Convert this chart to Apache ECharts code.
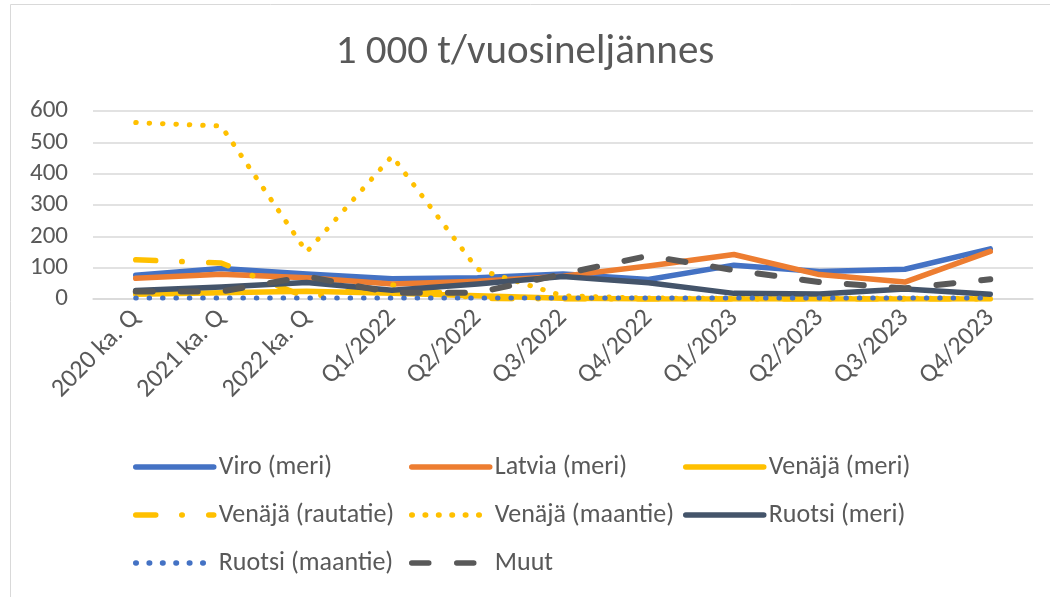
<!DOCTYPE html>
<html>
<head>
<meta charset="utf-8">
<script src="https://cdn.jsdelivr.net/npm/echarts@6/dist/echarts.min.js"></script>
<style>
  html, body { margin: 0; padding: 0; background: #fff; }
  #chart { width: 1050px; height: 597px; }
</style>
</head>
<body>
<div id="chart"></div>
<script>
// kategoriat ja sarjat (1 000 t / vuosineljännes)
const categories = ['2020 ka. Q', '2021 ka. Q', '2022 ka. Q', 'Q1/2022', 'Q2/2022', 'Q3/2022', 'Q4/2022', 'Q1/2023', 'Q2/2023', 'Q3/2023', 'Q4/2023'];
const viroMeri = [76, 97, 80, 65, 68, 80, 62, 108, 88, 95, 160];
const latviaMeri = [66, 79, 68, 48, 57, 73, 105, 142, 78, 54, 152];
const venajaMeri = [15, 20, 25, 18, 10, 2, 0, 0, 0, 0, 0];
const venajaRautatie = [125, 115, 5, 45, 2, 0, 0, 0, 0, 0, 0];
const venajaMaantie = [563, 552, 150, 456, 95, 10, 3, 2, 2, 2, 2];
const ruotsiMeri = [27, 38, 53, 28, 48, 72, 52, 18, 16, 32, 15];
const ruotsiMaantie = [3, 3, 3, 3, 3, 3, 3, 3, 3, 3, 3];
const muut = [24, 24, 72, 20, 20, 80, 138, 92, 54, 34, 63];
const yTicks = [0, 600, 100]; // min, max, interval

const textColor = '#595959';
const gridColor = '#d9d9d9';
const font = 'Carlito, "Noto Sans", sans-serif';

const chart = echarts.init(document.getElementById('chart'));

function line(name, data, color, width, type) {
  return {
    name: name,
    type: 'line',
    data: data,
    symbol: 'none',
    silent: true,
    lineStyle: { color: color, width: width, type: type || 'solid', cap: 'round', join: 'round' },
    itemStyle: { color: color }
  };
}

const legendBase = {
  orient: 'vertical',
  top: 449,
  itemWidth: 78,
  itemHeight: 14,
  itemGap: 22,
  textStyle: { color: textColor, fontSize: 26, fontFamily: font },
  itemStyle: { opacity: 0 },
  lineStyle: { width: 5.5, cap: 'round' }
};

const option = {
  animation: false,
  title: {
    text: '1 000 t/vuosineljännes',
    left: 'center',
    top: 27,
    textStyle: { color: textColor, fontSize: 41, fontWeight: 'normal', fontFamily: font }
  },
  graphic: [{
    type: 'rect',
    shape: { x: 10.5, y: 4.5, width: 1100, height: 700 },
    style: { fill: 'none', stroke: gridColor, lineWidth: 1 },
    silent: true
  }],
  legend: [
    Object.assign({}, legendBase, { left: 128, data: ['Viro (meri)', 'Venäjä (rautatie)', 'Ruotsi (maantie)'] }),
    Object.assign({}, legendBase, { left: 404, data: ['Latvia (meri)', 'Venäjä (maantie)', 'Muut'] }),
    Object.assign({}, legendBase, { left: 678, data: ['Venäjä (meri)', 'Ruotsi (meri)'] })
  ],
  grid: { left: 93, top: 111, width: 940, height: 188, containLabel: false },
  xAxis: {
    type: 'category',
    data: categories,
    boundaryGap: true,
    axisLine: { show: true, lineStyle: { color: gridColor, width: 1.5 } },
    axisTick: { show: false },
    axisLabel: { rotate: 45, color: textColor, fontSize: 26, fontFamily: font, margin: 15, interval: 0 }
  },
  yAxis: {
    type: 'value',
    min: yTicks[0],
    max: yTicks[1],
    interval: yTicks[2],
    axisLine: { show: false },
    axisTick: { show: false },
    axisLabel: { color: textColor, fontSize: 25, fontFamily: font, margin: 25 },
    splitLine: { lineStyle: { color: gridColor, width: 1.5 } }
  },
  series: [
    line('Viro (meri)', viroMeri, '#4472C4', 5.5),
    line('Latvia (meri)', latviaMeri, '#ED7D31', 5.5),
    line('Venäjä (meri)', venajaMeri, '#FFC000', 5.5),
    line('Venäjä (rautatie)', venajaRautatie, '#FFC000', 5.5, [20, 26, 0.5, 26.5]),
    line('Venäjä (maantie)', venajaMaantie, '#FFC000', 5, [0.5, 12.9]),
    line('Ruotsi (meri)', ruotsiMeri, '#44546A', 5.5),
    line('Ruotsi (maantie)', ruotsiMaantie, '#4472C4', 5, [0.5, 12.9]),
    line('Muut', muut, '#595959', 6, [17, 28])
  ]
};

chart.setOption(option);
</script>
</body>
</html>
